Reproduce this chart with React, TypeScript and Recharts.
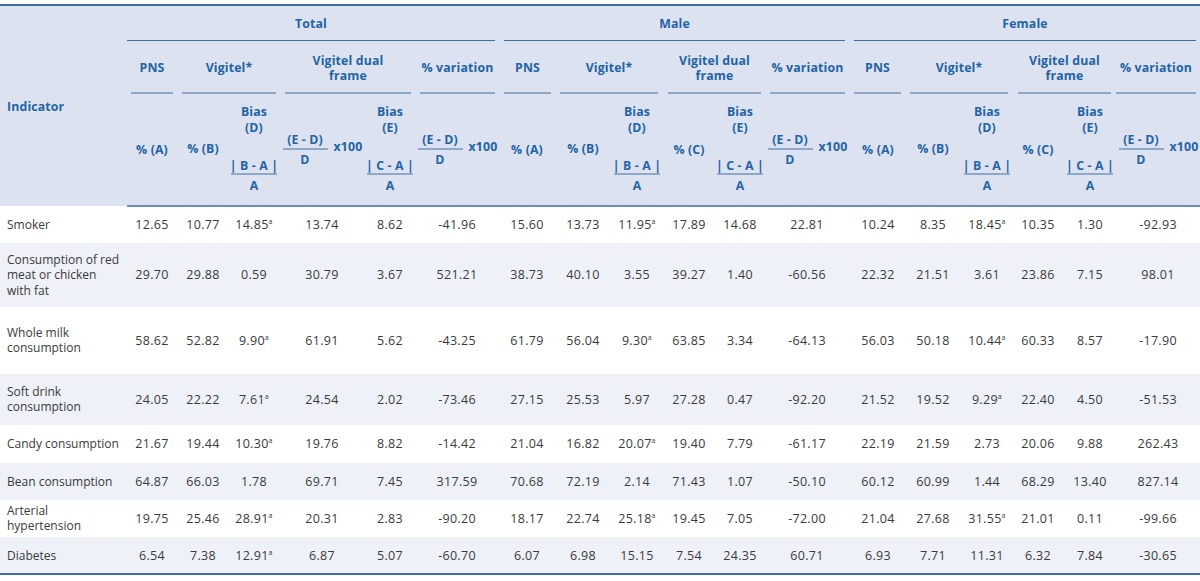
import { ComposedChart, XAxis, YAxis, Scatter, ReferenceArea, ReferenceLine } from 'recharts';

// indicator rows (label split into the printed lines)
const indicatorLines = [
  ['Smoker'],
  ['Consumption of red', 'meat or chicken', 'with fat'],
  ['Whole milk', 'consumption'],
  ['Soft drink', 'consumption'],
  ['Candy consumption'],
  ['Bean consumption'],
  ['Arterial', 'hypertension'],
  ['Diabetes'],
];

const groups = ['Total', 'Male', 'Female'];
const subHeaders = ['PNS', 'Vigitel*', 'Vigitel dual frame', '% variation'];

// Total
const totalPns = [12.65, 29.7, 58.62, 24.05, 21.67, 64.87, 19.75, 6.54];
const totalVigitel = [10.77, 29.88, 52.82, 22.22, 19.44, 66.03, 25.46, 7.38];
const totalBiasD = [14.85, 0.59, 9.9, 7.61, 10.3, 1.78, 28.91, 12.91];
const totalDual = [13.74, 30.79, 61.91, 24.54, 19.76, 69.71, 20.31, 6.87];
const totalBiasE = [8.62, 3.67, 5.62, 2.02, 8.82, 7.45, 2.83, 5.07];
const totalVariation = [-41.96, 521.21, -43.25, -73.46, -14.42, 317.59, -90.2, -60.7];
const totalSig = [true, false, true, true, true, false, true, true];

// Male
const malePns = [15.6, 38.73, 61.79, 27.15, 21.04, 70.68, 18.17, 6.07];
const maleVigitel = [13.73, 40.1, 56.04, 25.53, 16.82, 72.19, 22.74, 6.98];
const maleBiasD = [11.95, 3.55, 9.3, 5.97, 20.07, 2.14, 25.18, 15.15];
const maleDual = [17.89, 39.27, 63.85, 27.28, 19.4, 71.43, 19.45, 7.54];
const maleBiasE = [14.68, 1.4, 3.34, 0.47, 7.79, 1.07, 7.05, 24.35];
const maleVariation = [22.81, -60.56, -64.13, -92.2, -61.17, -50.1, -72.0, 60.71];
const maleSig = [true, false, true, false, true, false, true, false];

// Female
const femalePns = [10.24, 22.32, 56.03, 21.52, 22.19, 60.12, 21.04, 6.93];
const femaleVigitel = [8.35, 21.51, 50.18, 19.52, 21.59, 60.99, 27.68, 7.71];
const femaleBiasD = [18.45, 3.61, 10.44, 9.29, 2.73, 1.44, 31.55, 11.31];
const femaleDual = [10.35, 23.86, 60.33, 22.4, 20.06, 68.29, 21.01, 6.32];
const femaleBiasE = [1.3, 7.15, 8.57, 4.5, 9.88, 13.4, 0.11, 7.84];
const femaleVariation = [-92.93, 98.01, -17.9, -51.53, 262.43, 827.14, -99.66, -30.65];
const femaleSig = [true, false, true, true, false, false, true, false];

const groupColumns = [
  [totalPns, totalVigitel, totalBiasD, totalDual, totalBiasE, totalVariation],
  [malePns, maleVigitel, maleBiasD, maleDual, maleBiasE, maleVariation],
  [femalePns, femaleVigitel, femaleBiasD, femaleDual, femaleBiasE, femaleVariation],
];
const groupSig = [totalSig, maleSig, femaleSig];

// layout
const W = 1200;
const H = 581;
const BLUE = '#2264a5';
const RULE = '#3d6fa3';
const INK = '#3a3a3a';
const FONT = "'Open Sans', sans-serif";
const rowEdges = [206, 243, 307, 374, 425, 463, 500, 537, 574];
const colCenters = [
  [152, 203, 254, 322, 390, 457],
  [527, 583, 637, 689, 740, 807],
  [878, 933, 987, 1038, 1090, 1158],
];
const groupSpans = [[127, 495], [504, 845], [854, 1196]];
const subSpans = [
  [[131, 173], [182, 276], [285, 411], [420, 495]],
  [[504, 551], [560, 658], [668, 761], [770, 845]],
  [[854, 901], [910, 1008], [1018, 1111], [1116, 1196]],
];

type Item = { x: number; y: number; text: string; sup?: boolean; num?: boolean; anchor?: string };

const bodyCells: Item[] = [];
groupColumns.forEach((cols, g) =>
  cols.forEach((vals, c) =>
    vals.forEach((v, r) => {
      bodyCells.push({
        x: colCenters[g][c],
        y: (rowEdges[r] + rowEdges[r + 1]) / 2,
        text: v.toFixed(2),
        sup: c === 2 && groupSig[g][r],
        num: true,
      });
    })
  )
);
indicatorLines.forEach((lines, r) => {
  const mid = (rowEdges[r] + rowEdges[r + 1]) / 2;
  lines.forEach((t, i) => {
    bodyCells.push({ x: 7, y: mid + (i - (lines.length - 1) / 2) * 15.5, text: t, anchor: 'start' });
  });
});

const headCells: Item[] = [{ x: 7, y: 107, text: 'Indicator', anchor: 'start' }];
const rules: { x1: number; x2: number; y: number; w: number }[] = [
  { x1: 0, x2: W, y: 5, w: 2 },
  { x1: 127, x2: W, y: 206, w: 1.5 },
  { x1: 0, x2: W, y: 574, w: 2 },
];

const fraction = (cx: number, top: string, bottom: string, half: number) => {
  headCells.push({ x: cx, y: 166, text: top });
  headCells.push({ x: cx, y: 186, text: bottom });
  rules.push({ x1: cx - half, x2: cx + half, y: 174, w: 1 });
};
const variation = (cx: number) => {
  headCells.push({ x: cx - 17, y: 140, text: '(E - D)' });
  headCells.push({ x: cx - 17, y: 160, text: 'D' });
  headCells.push({ x: cx + 26, y: 147, text: 'x100' });
  rules.push({ x1: cx - 39, x2: cx + 6, y: 149, w: 1 });
};

groups.forEach((name, g) => {
  const [gx1, gx2] = groupSpans[g];
  headCells.push({ x: (gx1 + gx2) / 2, y: 24, text: name });
  rules.push({ x1: gx1, x2: gx2, y: 40.5, w: 1 });
  subHeaders.forEach((s, k) => {
    const [sx1, sx2] = subSpans[g][k];
    const cx = (sx1 + sx2) / 2;
    if (s === 'Vigitel dual frame') {
      headCells.push({ x: cx, y: 61, text: 'Vigitel dual' });
      headCells.push({ x: cx, y: 76, text: 'frame' });
    } else {
      headCells.push({ x: cx, y: 68, text: s });
    }
    rules.push({ x1: sx1, x2: sx2, y: 93, w: 1 });
  });
  const cc = colCenters[g];
  headCells.push({ x: cc[0], y: 150, text: '% (A)' });
  headCells.push({ x: cc[1], y: 149, text: '% (B)' });
  headCells.push({ x: cc[2], y: 112, text: 'Bias' });
  headCells.push({ x: cc[2], y: 128, text: '(D)' });
  fraction(cc[2], '| B - A |', 'A', 23);
  if (g === 0) variation(cc[3]);
  else headCells.push({ x: cc[3], y: 150, text: '% (C)' });
  headCells.push({ x: cc[4], y: 112, text: 'Bias' });
  headCells.push({ x: cc[4], y: 128, text: '(E)' });
  fraction(cc[4], '| C - A |', 'A', 23);
  variation(cc[5]);
});

const TextShape = (props: any) => {
  const { cx, cy, payload } = props;
  const head = props.head;
  return (
    <text
      x={cx}
      y={cy}
      dy="0.35em"
      textAnchor={payload.anchor || 'middle'}
      fontFamily={FONT}
      fontSize={head ? 12.3 : payload.num ? 12.5 : 12}
      fontWeight={head ? 700 : 400}
      letterSpacing={payload.num ? 0.3 : head ? 0.15 : 0}
      fill={head ? BLUE : INK}
      style={{ whiteSpace: 'pre' }}
    >
      {payload.text}
      {payload.sup ? (
        <tspan fontSize={7} dy="-0.75em">
          a
        </tspan>
      ) : null}
    </text>
  );
};

export default function App() {
  return (
    <div style={{ width: W, height: H, background: '#fff' }}>
      <style>{'body{margin:0}'}</style>
      <ComposedChart width={W} height={H} margin={{ top: 0, right: 0, bottom: 0, left: 0 }}>
        <XAxis type="number" dataKey="x" domain={[0, W]} allowDataOverflow hide />
        <YAxis type="number" dataKey="y" domain={[0, H]} allowDataOverflow reversed hide />
        <ReferenceArea x1={0} x2={W} y1={5} y2={206} fill="#dde2f0" fillOpacity={1} stroke="none" />
        {rowEdges.slice(0, -1).map((top, r) =>
          r % 2 === 1 ? (
            <ReferenceArea
              key={`band-${r}`}
              x1={0}
              x2={W}
              y1={top}
              y2={rowEdges[r + 1]}
              fill="#eff1f8"
              fillOpacity={1}
              stroke="none"
            />
          ) : null
        )}
        {rules.map((l, i) => (
          <ReferenceLine
            key={`rule-${i}`}
            segment={[
              { x: l.x1, y: l.y },
              { x: l.x2, y: l.y },
            ]}
            stroke={RULE}
            strokeWidth={l.w}
          />
        ))}
        <Scatter data={headCells} isAnimationActive={false} shape={(p: any) => <TextShape {...p} head />} />
        <Scatter data={bodyCells} isAnimationActive={false} shape={(p: any) => <TextShape {...p} />} />
      </ComposedChart>
    </div>
  );
}
